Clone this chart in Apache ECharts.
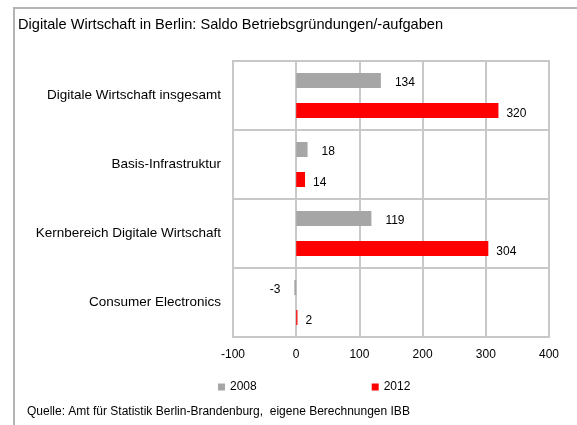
<!DOCTYPE html>
<html>
<head>
<meta charset="utf-8">
<script src="https://cdn.jsdelivr.net/npm/echarts@6/dist/echarts.min.js"></script>
<style>
  html, body { margin: 0; padding: 0; background: #fff; }
  #chart { width: 577px; height: 425px; }
</style>
</head>
<body>
<div id="chart"></div>
<script>
var categories = ['Digitale Wirtschaft insgesamt', 'Basis-Infrastruktur', 'Kernbereich Digitale Wirtschaft', 'Consumer Electronics'];
var values2008 = [134, 18, 119, -3];
var values2012 = [320, 14, 304, 2];
var xTicks = [-100, 0, 100, 200, 300, 400];

var font = 'Liberation Sans, Arial, sans-serif';

function withLabels(arr) {
    return arr.map(function (v) {
        return v < 0 ? { value: v, label: { position: 'left' } } : v;
    });
}

var myChart = echarts.init(document.getElementById('chart'));

option = {
    backgroundColor: '#fff',
    textStyle: { fontFamily: font },
    animation: false,
    title: {
        text: 'Digitale Wirtschaft in Berlin: Saldo Betriebsgründungen/-aufgaben',
        left: 13,
        top: 12,
        textStyle: { fontFamily: font, fontSize: 14.6, fontWeight: 'normal', color: '#000' }
    },
    legend: {
        data: ['2008', '2012'],
        left: 213,
        top: 376,
        itemWidth: 7,
        itemHeight: 7,
        itemGap: 115,
        icon: 'rect',
        textStyle: { fontFamily: font, fontSize: 12, color: '#000' }
    },
    grid: {
        left: 233,
        right: 28,
        top: 61,
        bottom: 88,
        show: true,
        borderColor: '#c8c8c8',
        borderWidth: 2,
        containLabel: false
    },
    xAxis: {
        type: 'value',
        min: xTicks[0],
        max: xTicks[xTicks.length - 1],
        interval: 100,
        axisLine: { show: false },
        axisTick: { show: false },
        axisLabel: { color: '#000', fontSize: 12, fontFamily: font, margin: 12 },
        splitLine: { lineStyle: { color: '#c8c8c8', width: 2 } }
    },
    yAxis: {
        type: 'category',
        data: categories,
        inverse: true,
        axisLine: { show: false },
        axisTick: { show: false },
        axisLabel: { color: '#000', fontSize: 13.5, fontFamily: font, margin: 12 },
        splitLine: { show: true, lineStyle: { color: '#c8c8c8', width: 2 } }
    },
    series: [
        {
            name: '2008',
            type: 'bar',
            data: withLabels(values2008),
            barWidth: 15,
            barGap: '100%',
            itemStyle: { color: '#a6a6a6' },
            label: { show: true, position: 'right', distance: 14, offset: [0, 2], color: '#000', fontSize: 12, fontFamily: font }
        },
        {
            name: '2012',
            type: 'bar',
            data: withLabels(values2012),
            barWidth: 15,
            barGap: '100%',
            itemStyle: { color: '#ff0000' },
            label: { show: true, position: 'right', distance: 8, offset: [0, 3], color: '#000', fontSize: 12, fontFamily: font }
        }
    ],
    graphic: [
        {
            type: 'rect',
            shape: { x: 14, y: 8, width: 600, height: 450 },
            style: { fill: 'none', stroke: '#b4b4b4', lineWidth: 2 },
            silent: true,
            z: -1
        },
        {
            type: 'text',
            left: 27,
            top: 406,
            style: {
                text: 'Quelle: Amt für Statistik Berlin-Brandenburg,  eigene Berechnungen IBB',
                font: '12px ' + font,
                fill: '#000'
            }
        }
    ]
};

myChart.setOption(option);
</script>
</body>
</html>
